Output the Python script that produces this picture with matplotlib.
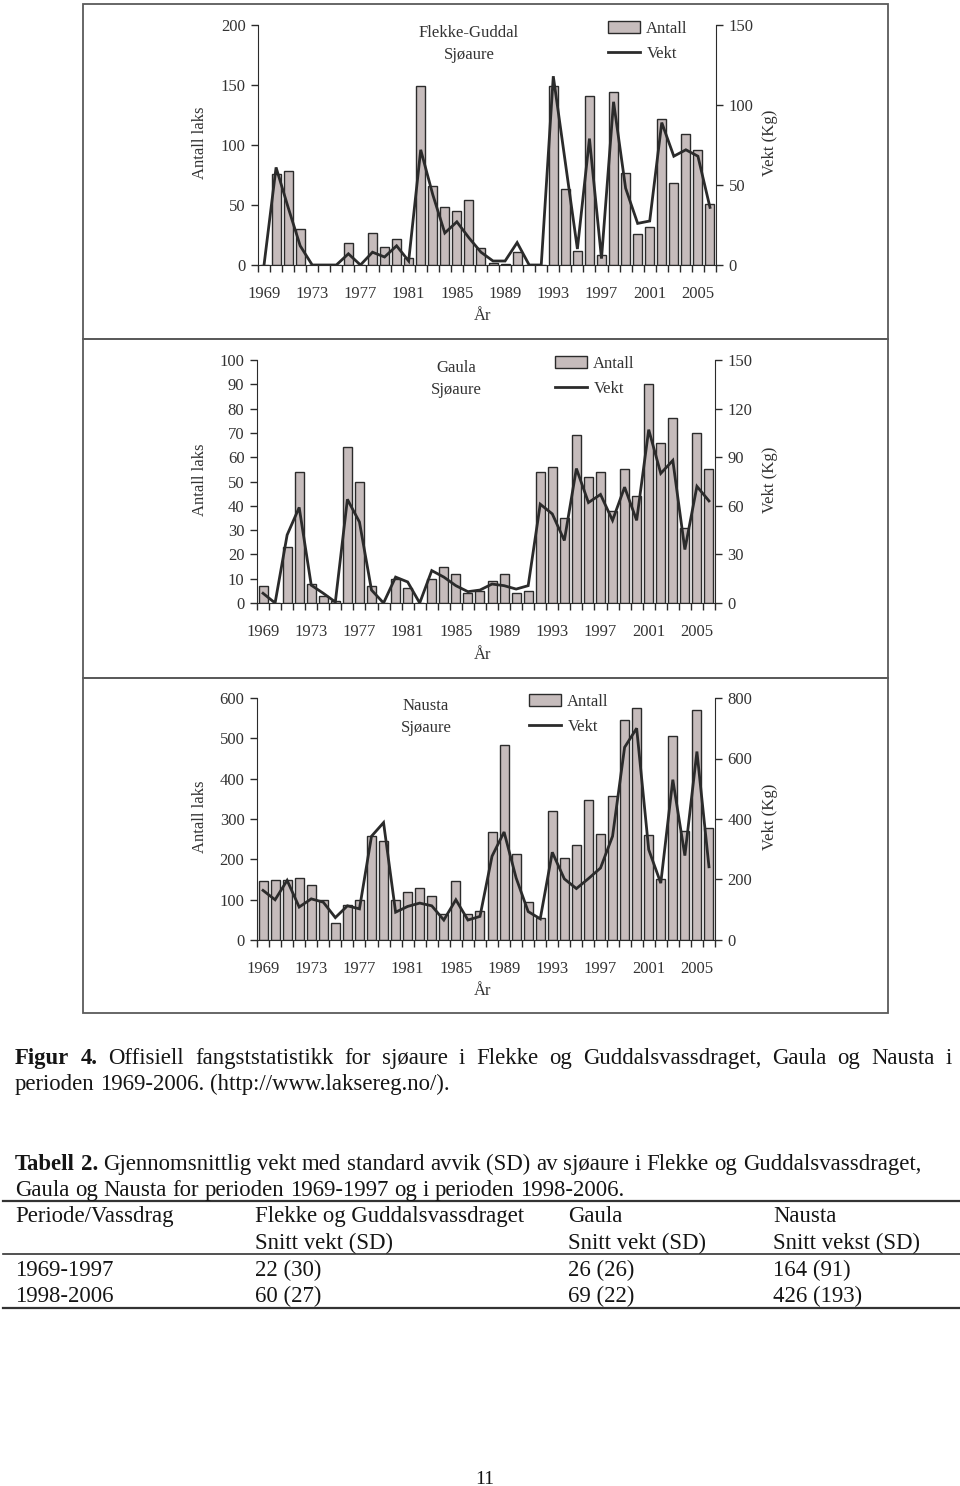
import matplotlib
matplotlib.use('Agg')
import matplotlib.pyplot as plt
from matplotlib.patches import Patch, Rectangle
from matplotlib.lines import Line2D
from matplotlib.ticker import FixedLocator, FixedFormatter, MultipleLocator

plt.rcParams['font.family'] = ['Liberation Serif', 'DejaVu Serif']

years = list(range(1969, 2007))
year_labels = ['1969', '1973', '1977', '1981', '1985', '1989', '1993', '1997', '2001', '2005']

flekke_antall = [0, 76, 78, 30, 0, 0, 0, 18, 0, 27, 15, 22, 6, 149, 66, 48, 45, 54, 14,
                 2, 1, 11, 0, 0, 149, 63, 12, 141, 8, 144, 77, 26, 32, 122, 68, 109, 96, 51]
flekke_vekt = [0, 61, 36, 12, 0, 0, 0, 7, 0, 8, 5, 12, 2.5, 72, 44, 20, 27, 17, 8,
               2.5, 2.5, 14, 0, 0, 118, 64, 10, 79, 4, 102, 48, 26, 27.5, 89, 68, 72, 68, 36]

gaula_antall = [7, 0, 23, 54, 8, 3, 1, 64, 50, 7, 0, 10, 6, 0, 10, 15, 12, 4, 5,
                9, 12, 4, 5, 54, 56, 35, 69, 52, 54, 38, 55, 44, 90, 66, 76, 31, 70, 55]
gaula_vekt = [6, 0, 42, 59, 11, 6, 0.6, 64, 50, 8, 0, 16, 13, 0, 20, 16, 10.7, 7, 8,
              11.7, 10.7, 8.6, 10.7, 61, 55, 38.6, 83, 62, 67, 51, 71.5, 51, 107, 80, 88, 33, 72, 63]

nausta_antall = [146, 149, 149, 154, 136, 98, 43, 86, 99, 259, 246, 98, 119, 129, 108, 64, 146, 65, 73,
                 267, 483, 212, 93, 55, 321, 203, 235, 346, 262, 356, 546, 575, 260, 151, 507, 270, 570, 278]
nausta_vekt = [164, 133, 197, 109, 136, 125, 74, 113, 103, 343, 388, 92, 111, 122, 113, 66, 133, 66, 78,
               277, 357, 205, 94, 70, 290, 202, 170, 203, 238, 343, 637, 700, 299, 188, 530, 279, 623, 242]

rivers = ['Flekke-Guddal', 'Gaula', 'Nausta']
W, H = 960, 1486
BAR = '#c6bcbc'
DARK = '#2b2b2b'
GREY = '#333333'

fig = plt.figure(figsize=(W / 100, H / 100), dpi=100)


def fx(px):
    return px / W


def fy(py):
    return 1 - py / H


def panel(antall, vekt, name, box, left_max, left_step, right_max, right_step, ylab, title_x, leg_x):
    l, t, r, b = box
    ax = fig.add_axes([fx(l), fy(b), (r - l) / W, (b - t) / H])
    x = list(range(len(years)))
    ax.bar(x, antall, width=0.75, color=BAR, edgecolor=DARK, linewidth=1.0)
    ax.set_xlim(-0.5, len(years) - 0.5)
    ax.set_ylim(0, left_max)
    ax.yaxis.set_major_locator(MultipleLocator(left_step))
    ax.xaxis.set_major_locator(FixedLocator(list(range(0, len(years), 4))))
    ax.xaxis.set_major_formatter(FixedFormatter(year_labels))
    ax.xaxis.set_minor_locator(FixedLocator([i - 0.5 for i in range(len(years) + 1)]))
    ax.tick_params(axis='x', which='major', length=0, pad=15, labelsize=12, labelcolor=GREY)
    ax.tick_params(axis='x', which='minor', length=5, width=1, direction='out', color=DARK)
    ax.tick_params(axis='y', length=5, width=1, pad=4, labelsize=12, labelcolor=GREY, color=DARK)
    for s in ['top', 'right']:
        ax.spines[s].set_visible(False)
    for s in ['left', 'bottom']:
        ax.spines[s].set_color(DARK)

    ax2 = ax.twinx()
    ax2.plot(x, vekt, color=DARK, linewidth=2.0, solid_joinstyle='miter')
    ax2.set_ylim(0, right_max)
    ax2.yaxis.set_major_locator(MultipleLocator(right_step))
    ax2.tick_params(axis='y', length=5, width=1, pad=4, labelsize=12, labelcolor=GREY, color=DARK)
    for s in ['top', 'left', 'bottom']:
        ax2.spines[s].set_visible(False)
    ax2.spines['right'].set_color(DARK)

    mid = (t + b) / 2
    fig.text(fx(200), fy(mid - 2), 'Antall laks', rotation=90, ha='center', va='center',
             fontsize=12, color=GREY)
    fig.text(fx(770), fy(mid - 2), 'Vekt (Kg)', rotation=90, ha='center', va='center',
             fontsize=12, color=GREY)
    fig.text(fx(483), fy(ylab), 'År', ha='center', va='center', fontsize=12, color=GREY)
    fig.text(fx(title_x), fy(t + 19), name + '\nSjøaure', ha='center', va='center',
             fontsize=12, color=GREY, linespacing=1.5, multialignment='center')

    handles = [Patch(facecolor=BAR, edgecolor=DARK, linewidth=1.0),
               Line2D([], [], color=DARK, linewidth=2.0)]
    ax2.legend(handles, ['Antall', 'Vekt'], loc='upper left',
               bbox_to_anchor=(fx(leg_x), fy(t - 4)), bbox_transform=fig.transFigure,
               frameon=False, fontsize=12, handlelength=1.9, handleheight=0.7,
               handletextpad=0.4, labelspacing=0.55, borderpad=0, borderaxespad=0,
               labelcolor=GREY)
    return ax


panel(flekke_antall, flekke_vekt, rivers[0], (258, 25, 716, 265), 200, 50, 150, 50, 316, 469, 608)
panel(gaula_antall, gaula_vekt, rivers[1], (257, 360, 715, 603), 100, 10, 150, 30, 655, 456, 555)
panel(nausta_antall, nausta_vekt, rivers[2], (257, 698, 715, 940), 600, 100, 800, 200, 991, 426, 529)

# frames round the three panels
for top, bot in [(4, 339), (339, 678), (678, 1013)]:
    fig.patches.append(Rectangle((fx(83), fy(bot)), (888 - 83) / W, (bot - top) / H,
                                 transform=fig.transFigure, fill=False,
                                 edgecolor='#5a5a5a', linewidth=1.3))

renderer = fig.canvas.get_renderer()
TXT = '#151515'
FS = 16.4


def write_line(runs, y, x0, x1=None):
    # runs: list of (text, bold); y is the baseline; words are spread to x1 if given
    texts = []
    for words, bold in runs:
        for w in words.split():
            texts.append(fig.text(0, fy(y), w, ha='left', va='baseline', fontsize=FS, color=TXT,
                                  fontweight='bold' if bold else 'normal'))
    widths = [t.get_window_extent(renderer).width for t in texts]
    a1 = fig.text(0, 0, 'a a', fontsize=FS)
    a2 = fig.text(0, 0, 'aa', fontsize=FS)
    space = a1.get_window_extent(renderer).width - a2.get_window_extent(renderer).width
    a1.remove()
    a2.remove()
    if x1 is not None and len(texts) > 1:
        gap = (x1 - x0 - sum(widths)) / (len(texts) - 1)
    else:
        gap = space
    x = x0
    for t, w in zip(texts, widths):
        t.set_x(fx(x))
        x += w + gap


write_line([('Figur 4.', True),
            ('Offisiell fangststatistikk for sjøaure i Flekke og Guddalsvassdraget, Gaula og Nausta i', False)],
           1064, 15, 952)
write_line([('perioden 1969-2006. (http://www.laksereg.no/).', False)], 1090, 15)
write_line([('Tabell 2.', True),
            ('Gjennomsnittlig vekt med standard avvik (SD) av sjøaure i Flekke og Guddalsvassdraget,', False)],
           1170, 15, 921)
write_line([('Gaula og Nausta for perioden 1969-1997 og i perioden 1998-2006.', False)], 1196, 15)

col_x = [15, 255, 568, 773]
header1 = ['Periode/Vassdrag', 'Flekke og Guddalsvassdraget', 'Gaula', 'Nausta']
header2 = ['', 'Snitt vekt (SD)', 'Snitt vekt (SD)', 'Snitt vekst (SD)']
row_1969 = ['1969-1997', '22 (30)', '26 (26)', '164 (91)']
row_1998 = ['1998-2006', '60 (27)', '69 (22)', '426 (193)']
for row, y in [(header1, 1222), (header2, 1249), (row_1969, 1276), (row_1998, 1302)]:
    for cx, s in zip(col_x, row):
        fig.text(fx(cx), fy(y), s, ha='left', va='baseline', fontsize=FS, color=TXT)

for y, lw in [(1201, 1.6), (1254, 1.2), (1308, 1.6)]:
    fig.add_artist(Line2D([fx(3), fx(960)], [fy(y), fy(y)], transform=fig.transFigure,
                          color='#333333', linewidth=lw))

fig.text(fx(485), fy(1484), '11', ha='center', va='baseline', fontsize=14, color=TXT)

fig.savefig('out.png', dpi=100)
